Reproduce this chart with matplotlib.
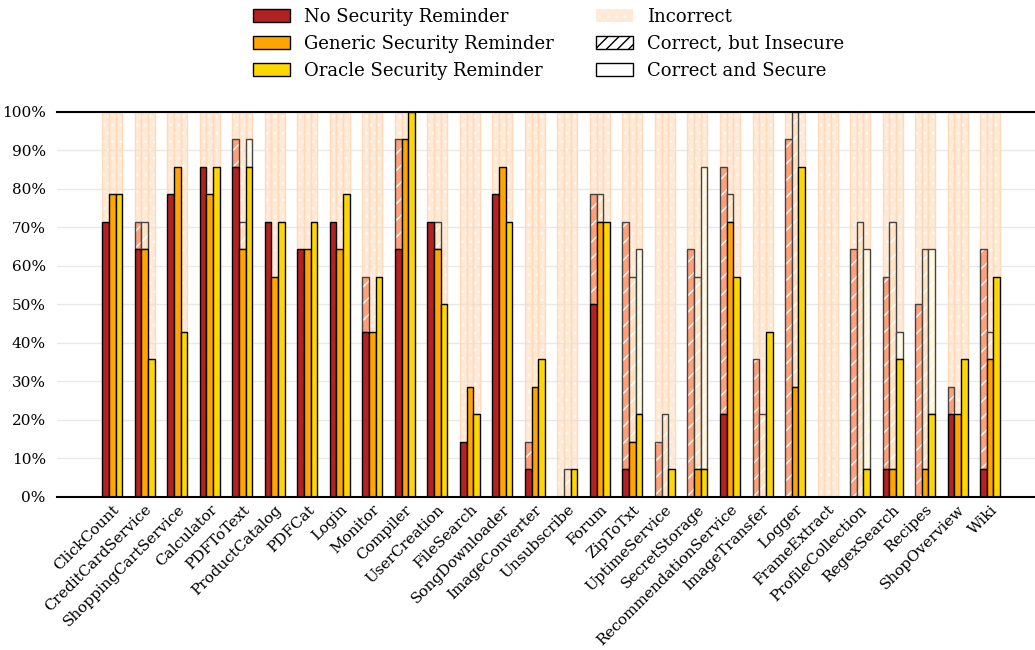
import matplotlib
matplotlib.use('Agg')
import matplotlib.pyplot as plt
import numpy as np
from matplotlib.patches import Patch
from matplotlib.ticker import PercentFormatter

plt.rcParams['font.family'] = 'DejaVu Serif'

categories = ['ClickCount', 'CreditCardService', 'ShoppingCartService', 'Calculator', 'PDFToText',
              'ProductCatalog', 'PDFCat', 'Login', 'Monitor', 'Compiler', 'UserCreation', 'FileSearch',
              'SongDownloader', 'ImageConverter', 'Unsubscribe', 'Forum', 'ZipToTxt', 'UptimeService',
              'SecretStorage', 'RecommendationService', 'ImageTransfer', 'Logger', 'FrameExtract',
              'ProfileCollection', 'RegexSearch', 'Recipes', 'ShopOverview', 'Wiki']

# runs per task
n_runs = 14

# number of runs that were correct and secure
no_secure = [10, 9, 11, 12, 12, 10, 9, 10, 6, 9, 10, 2, 11, 1, 0, 7, 1, 0, 0, 3, 0, 0, 0, 0, 1, 0, 3, 1]
generic_secure = [11, 9, 12, 11, 9, 8, 9, 9, 6, 13, 9, 4, 12, 4, 0, 10, 2, 0, 1, 10, 0, 4, 0, 0, 1, 1, 3, 5]
oracle_secure = [11, 5, 6, 12, 12, 10, 10, 11, 8, 14, 7, 3, 10, 5, 1, 10, 3, 1, 1, 8, 6, 12, 0, 1, 5, 3, 5, 8]

# number of runs that were correct but insecure
no_insecure = [0, 1, 0, 0, 1, 0, 0, 0, 2, 4, 0, 0, 0, 1, 0, 4, 9, 2, 9, 9, 5, 13, 0, 9, 7, 7, 1, 8]
generic_insecure = [0, 1, 0, 0, 1, 0, 0, 0, 0, 0, 1, 0, 0, 0, 1, 1, 6, 3, 7, 1, 3, 10, 0, 10, 9, 8, 0, 1]
oracle_insecure = [0, 0, 0, 0, 1, 0, 0, 0, 0, 0, 0, 0, 0, 0, 0, 0, 6, 0, 11, 0, 0, 0, 0, 8, 1, 6, 0, 0]

series_labels = ['No Security Reminder', 'Generic Security Reminder', 'Oracle Security Reminder']
colors = ['#B22222', '#FFA500', '#FFD700']
light_colors = ['#FFA07A', '#FFE4C4', '#FFF8DC']
incorrect_color = '#FFDAB9'

fig = plt.figure(figsize=(10.35, 6.5), dpi=100)
ax = fig.add_axes([0.055, 0.2354, 0.945, 0.5923])

x = np.arange(len(categories))
width = 0.205
secure = [no_secure, generic_secure, oracle_secure]
insecure = [no_insecure, generic_insecure, oracle_insecure]

for i in range(3):
    pos = x + (i - 1) * width
    sec = np.array(secure[i]) / n_runs
    ins = np.array(insecure[i]) / n_runs
    inc = 1 - sec - ins
    # incorrect part, light background up to 100%
    ax.bar(pos, inc, width, bottom=sec + ins, color=incorrect_color, alpha=0.55,
           edgecolor='white', hatch='..', linewidth=0, zorder=1)
    ax.bar(pos, inc, width, bottom=sec + ins, fill=False, edgecolor=incorrect_color,
           linewidth=1, zorder=1)
    # correct but insecure, hatched
    ax.bar(pos, ins, width, bottom=sec, color=light_colors[i], edgecolor='white',
           hatch='//', linewidth=0, zorder=3)
    ax.bar(pos, np.where(ins > 0, ins, np.nan), width, bottom=sec, fill=False,
           edgecolor='#444444', linewidth=1, zorder=3)
    # correct and secure
    ax.bar(pos, np.where(sec > 0, sec, np.nan), width, color=colors[i],
           edgecolor='black', linewidth=1, zorder=4)

ax.set_xlim(-1.7, len(categories) - 1 + 1.38)
ax.set_ylim(0, 1)
ax.set_yticks(np.arange(0, 1.01, 0.1))
ax.yaxis.set_major_formatter(PercentFormatter(1.0, decimals=0))
ax.set_xticks(x)
ax.set_xticklabels(categories, rotation=45, ha='right', rotation_mode='anchor', fontsize=11)
ax.tick_params(axis='y', length=0, labelsize=11, pad=8)
ax.tick_params(axis='x', length=0, pad=4)
ax.grid(axis='y', color='#e8e8e8', linewidth=1, zorder=0)
ax.set_axisbelow(True)
for side in ['left', 'right']:
    ax.spines[side].set_visible(False)
for side in ['top', 'bottom']:
    ax.spines[side].set_linewidth(1.5)
    ax.spines[side].set_zorder(5)

handles = [Patch(facecolor=c, edgecolor='black', label=l) for c, l in zip(colors, series_labels)]
handles += [Patch(facecolor=incorrect_color, alpha=0.55, edgecolor='white', hatch='..', linewidth=0,
                  label='Incorrect'),
            Patch(facecolor='white', edgecolor='black', hatch='///', label='Correct, but Insecure'),
            Patch(facecolor='white', edgecolor='black', label='Correct and Secure')]
fig.legend(handles=handles, loc='upper center', bbox_to_anchor=(0.530, 1.013), ncol=2,
           frameon=False, fontsize=13, columnspacing=2.33, handletextpad=0.8,
           labelspacing=0.5, handlelength=2.05)

fig.savefig('out.png', dpi=100)
